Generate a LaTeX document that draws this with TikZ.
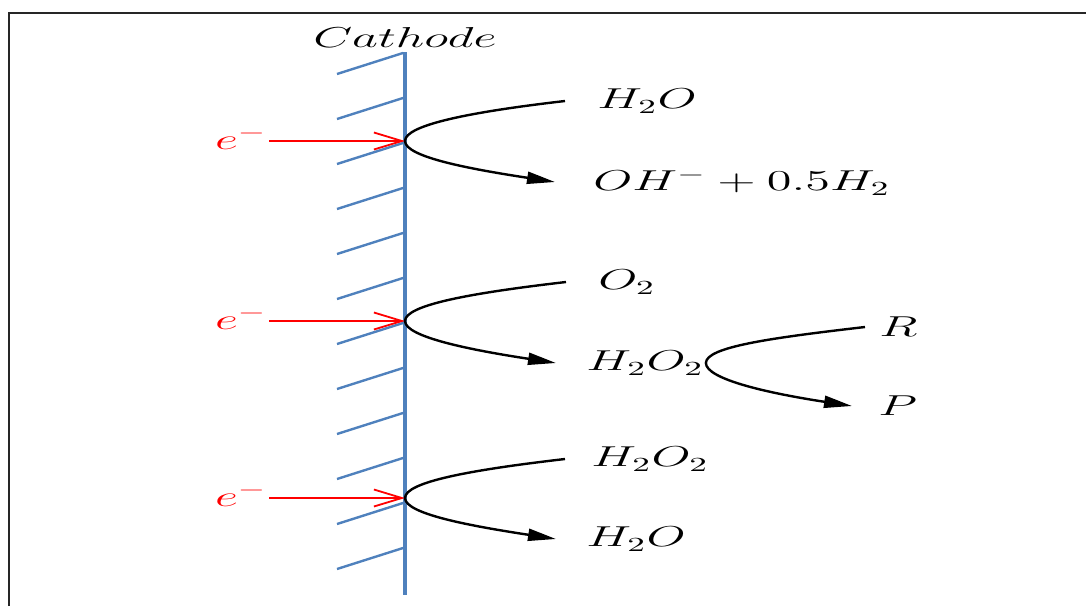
\documentclass[tikz,border=0pt]{standalone}
\usepackage{graphicx}
\usetikzlibrary{positioning,arrows.meta}
\definecolor{cathblue}{HTML}{4F81BD}
\definecolor{elecred}{HTML}{FF0000}
\newcommand{\wide}[1]{\scalebox{1.75}[1]{#1}}

\begin{document}
\begin{tikzpicture}[x=0.5pt,y=-0.5pt,
  chem/.style={font=\fontsize{14}{16}\selectfont,inner sep=1pt},
  elec/.style={chem,text=elecred},
  hatch/.style={cathblue,line width=1.2pt},
  earr/.style={elecred,line width=0.9pt,-{Straight Barb[length=14pt,width=8.5pt]}},
  react/.style={line width=1.2pt,-{Triangle[length=14pt,width=6pt]}}
]
\useasboundingbox (0,0) rectangle (1086,606);
% frame
\draw[line width=1.2pt,black!85] (9,606) -- (9,13) -- (1086,13);
% cathode
\coordinate (ctop) at (405,52);
\coordinate (cbot) at (405,595);
\foreach \y in {74,119,...,569} \draw[hatch] (337,\y) -- (403,\y-21);
\draw[cathblue,line width=1.8pt] (ctop) -- (cbot);
\node[chem,above=1pt of ctop] (cath) {\wide{$Cathode$}};
\coordinate (v1) at (405,141);
\coordinate (v2) at (405,321);
\coordinate (v3) at (405,498);
% electrons
\node[elec] (e1) at (241,138) {\wide{$e^-$}};
\node[elec] (e2) at (241,318) {\wide{$e^-$}};
\node[elec] (e3) at (241,495) {\wide{$e^-$}};
\draw[earr] (e1.east |- v1) -- (v1);
\draw[earr] (e2.east |- v2) -- (v2);
\draw[earr] (e3.east |- v3) -- (v3);
% water reduction
\coordinate (a1) at (565,101);
\coordinate (b1) at (555,182);
\node[chem,right=15pt of a1] (h2oa) {\wide{$H_2O$}};
\node[chem,right=18pt of b1] (ohm) {\wide{$OH^- + 0.5H_2$}};
\draw[react] (a1) .. controls +(-95,11) and +(0,-16) .. (v1) .. controls +(0,16) and +(-85,-13) .. (b1);
% oxygen reduction
\coordinate (a2) at (566,282);
\coordinate (b2) at (556,363);
\node[chem,right=15pt of a2] (o2) {\wide{$O_2$}};
\node[chem,right=14pt of b2] (h2o2a) {\wide{$H_2O_2$}};
\draw[react] (a2) .. controls +(-95,11) and +(0,-16) .. (v2) .. controls +(0,16) and +(-85,-13) .. (b2);
% peroxide reduction
\coordinate (a3) at (565,459);
\coordinate (b3) at (556,539);
\node[chem,right=12pt of a3] (h2o2b) {\wide{$H_2O_2$}};
\node[chem,right=14pt of b3] (h2ob) {\wide{$H_2O$}};
\draw[react] (a3) .. controls +(-95,11) and +(0,-16) .. (v3) .. controls +(0,16) and +(-85,-13) .. (b3);
% oxidation of R
\coordinate (a4) at (865,327);
\coordinate (b4) at (852,406);
\node[chem,right=6pt of a4] (r) {\wide{$R$}};
\node[chem,right=12pt of b4] (p) {\wide{$P$}};
\draw[react] (a4) .. controls +(-95,11) and +(0,-16) .. (h2o2a.east) .. controls +(0,16) and +(-85,-13) .. (b4);
\end{tikzpicture}
\end{document}
